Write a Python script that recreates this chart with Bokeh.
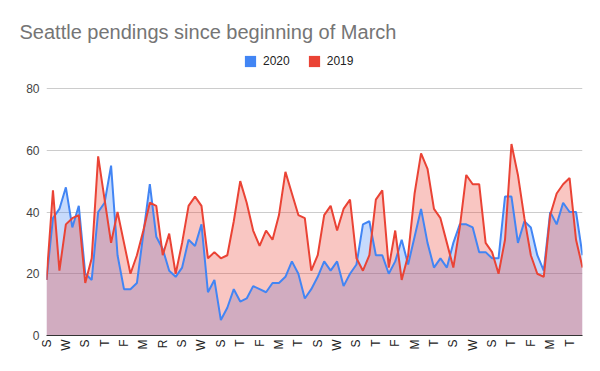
import math
from bokeh.plotting import figure
from bokeh.models import Range1d, FixedTicker, Title, Legend, LegendItem
from bokeh.embed import file_html
from bokeh.resources import INLINE

# ---- data ----
day_labels = ["S", "W", "S", "T", "F", "M", "R", "S", "W", "S", "T", "F", "M", "T",
              "S", "W", "S", "T", "F", "M", "T", "S", "W", "S", "T", "F", "M", "T"]

pend_2020 = [18, 38, 41, 48, 35, 42, 20, 18, 40, 43,
             55, 26, 15, 15, 17, 33, 49, 32, 28, 21,
             19, 22, 31, 29, 36, 14, 18, 5, 9, 15,
             11, 12, 16, 15, 14, 17, 17, 19, 24, 20,
             12, 15, 19, 24, 21, 24, 16, 20, 23, 36,
             37, 26, 26, 20, 24, 31, 23, 32, 41, 30,
             22, 25, 22, 30, 36, 36, 35, 27, 27, 25,
             25, 45, 45, 30, 37, 35, 26, 21, 40, 36,
             43, 40, 40, 26]

pend_2019 = [18, 47, 21, 36, 38, 39, 17, 25, 58, 44,
             30, 40, 30, 20, 26, 34, 43, 42, 26, 33,
             20, 30, 42, 45, 42, 25, 27, 25, 26, 37,
             50, 43, 34, 29, 34, 31, 39, 53, 46, 39,
             38, 21, 26, 39, 42, 34, 41, 44, 25, 21,
             26, 44, 47, 22, 34, 18, 26, 46, 59, 54,
             41, 38, 30, 22, 35, 52, 49, 49, 30, 27,
             20, 31, 62, 52, 38, 26, 20, 19, 39, 46,
             49, 51, 31, 22]

y_ticks = [0, 20, 40, 60, 80]
days = list(range(len(pend_2020)))

BLUE = "#4285f4"
RED = "#ea4335"
FONT = "Liberation Sans"

W, H = 592, 363
left, right, top, bottom = 46, 10, 50, 28
frame_h = H - top - bottom          # 285 px
y_top = 80 * frame_h / 247.0        # 80 sits 247 px above the baseline

p = figure(width=W, height=H, output_backend="svg", toolbar_location=None,
           x_range=Range1d(0, len(days) - 1), y_range=Range1d(0, y_top),
           min_border_left=left, min_border_right=right,
           min_border_top=top, min_border_bottom=bottom, title=None)
p.outline_line_color = None
p.background_fill_color = "white"
p.border_fill_color = "white"

# axes
p.xaxis.ticker = FixedTicker(ticks=list(range(0, len(days), 3)))
p.xaxis.major_label_overrides = {i * 3: lab for i, lab in enumerate(day_labels)}
p.xaxis.major_label_orientation = math.pi / 2
p.xaxis.major_tick_line_color = None
p.xaxis.minor_tick_line_color = None
p.xaxis.major_tick_out = 0
p.xaxis.major_tick_in = 0
p.xaxis.axis_line_color = "#333333"
p.xaxis.major_label_standoff = 4
p.xaxis.major_label_text_font = FONT
p.xaxis.major_label_text_font_size = "12px"
p.xaxis.major_label_text_color = "#222222"
p.xgrid.visible = False

p.yaxis.ticker = FixedTicker(ticks=y_ticks)
p.yaxis.axis_line_color = None
p.yaxis.major_tick_line_color = None
p.yaxis.minor_tick_line_color = None
p.yaxis.major_tick_out = 0
p.yaxis.major_tick_in = 0
p.yaxis.major_label_standoff = 7
p.yaxis.major_label_text_font = FONT
p.yaxis.major_label_text_font_size = "12px"
p.yaxis.major_label_text_color = "#444444"
p.ygrid.ticker = FixedTicker(ticks=y_ticks)
p.ygrid.grid_line_color = "#cccccc"

# areas and lines
p.varea(x=days, y1=0, y2=pend_2020, fill_color=BLUE, fill_alpha=0.3)
p.varea(x=days, y1=0, y2=pend_2019, fill_color=RED, fill_alpha=0.3)
p.line(days, pend_2020, line_color=BLUE, line_width=2)
p.line(days, pend_2019, line_color=RED, line_width=2)

# legend swatches (zero-size quads so only the legend glyph shows)
lg20 = p.quad(left=days[:1], right=days[:1], top=pend_2020[:1], bottom=pend_2020[:1],
              fill_color=BLUE, line_color=None)
lg19 = p.quad(left=days[:1], right=days[:1], top=pend_2019[:1], bottom=pend_2019[:1],
              fill_color=RED, line_color=None)
legend = Legend(items=[LegendItem(label="2020", renderers=[lg20]),
                       LegendItem(label="2019", renderers=[lg19])],
                location=(197, 267), orientation="horizontal",
                glyph_width=14, glyph_height=14, label_height=14,
                label_standoff=6, spacing=17, padding=0, margin=0,
                border_line_color=None, background_fill_alpha=0,
                label_text_font=FONT, label_text_font_size="12px",
                label_text_color="#222222")
p.add_layout(legend)

title = Title(text="Seattle pendings since beginning of March", align="left",
              offset=-27, standoff=15, text_font=FONT, text_font_size="20px",
              text_color="#757575", text_font_style="normal")
p.add_layout(title, "above")

open("out.html", "w").write(file_html(p, INLINE))
